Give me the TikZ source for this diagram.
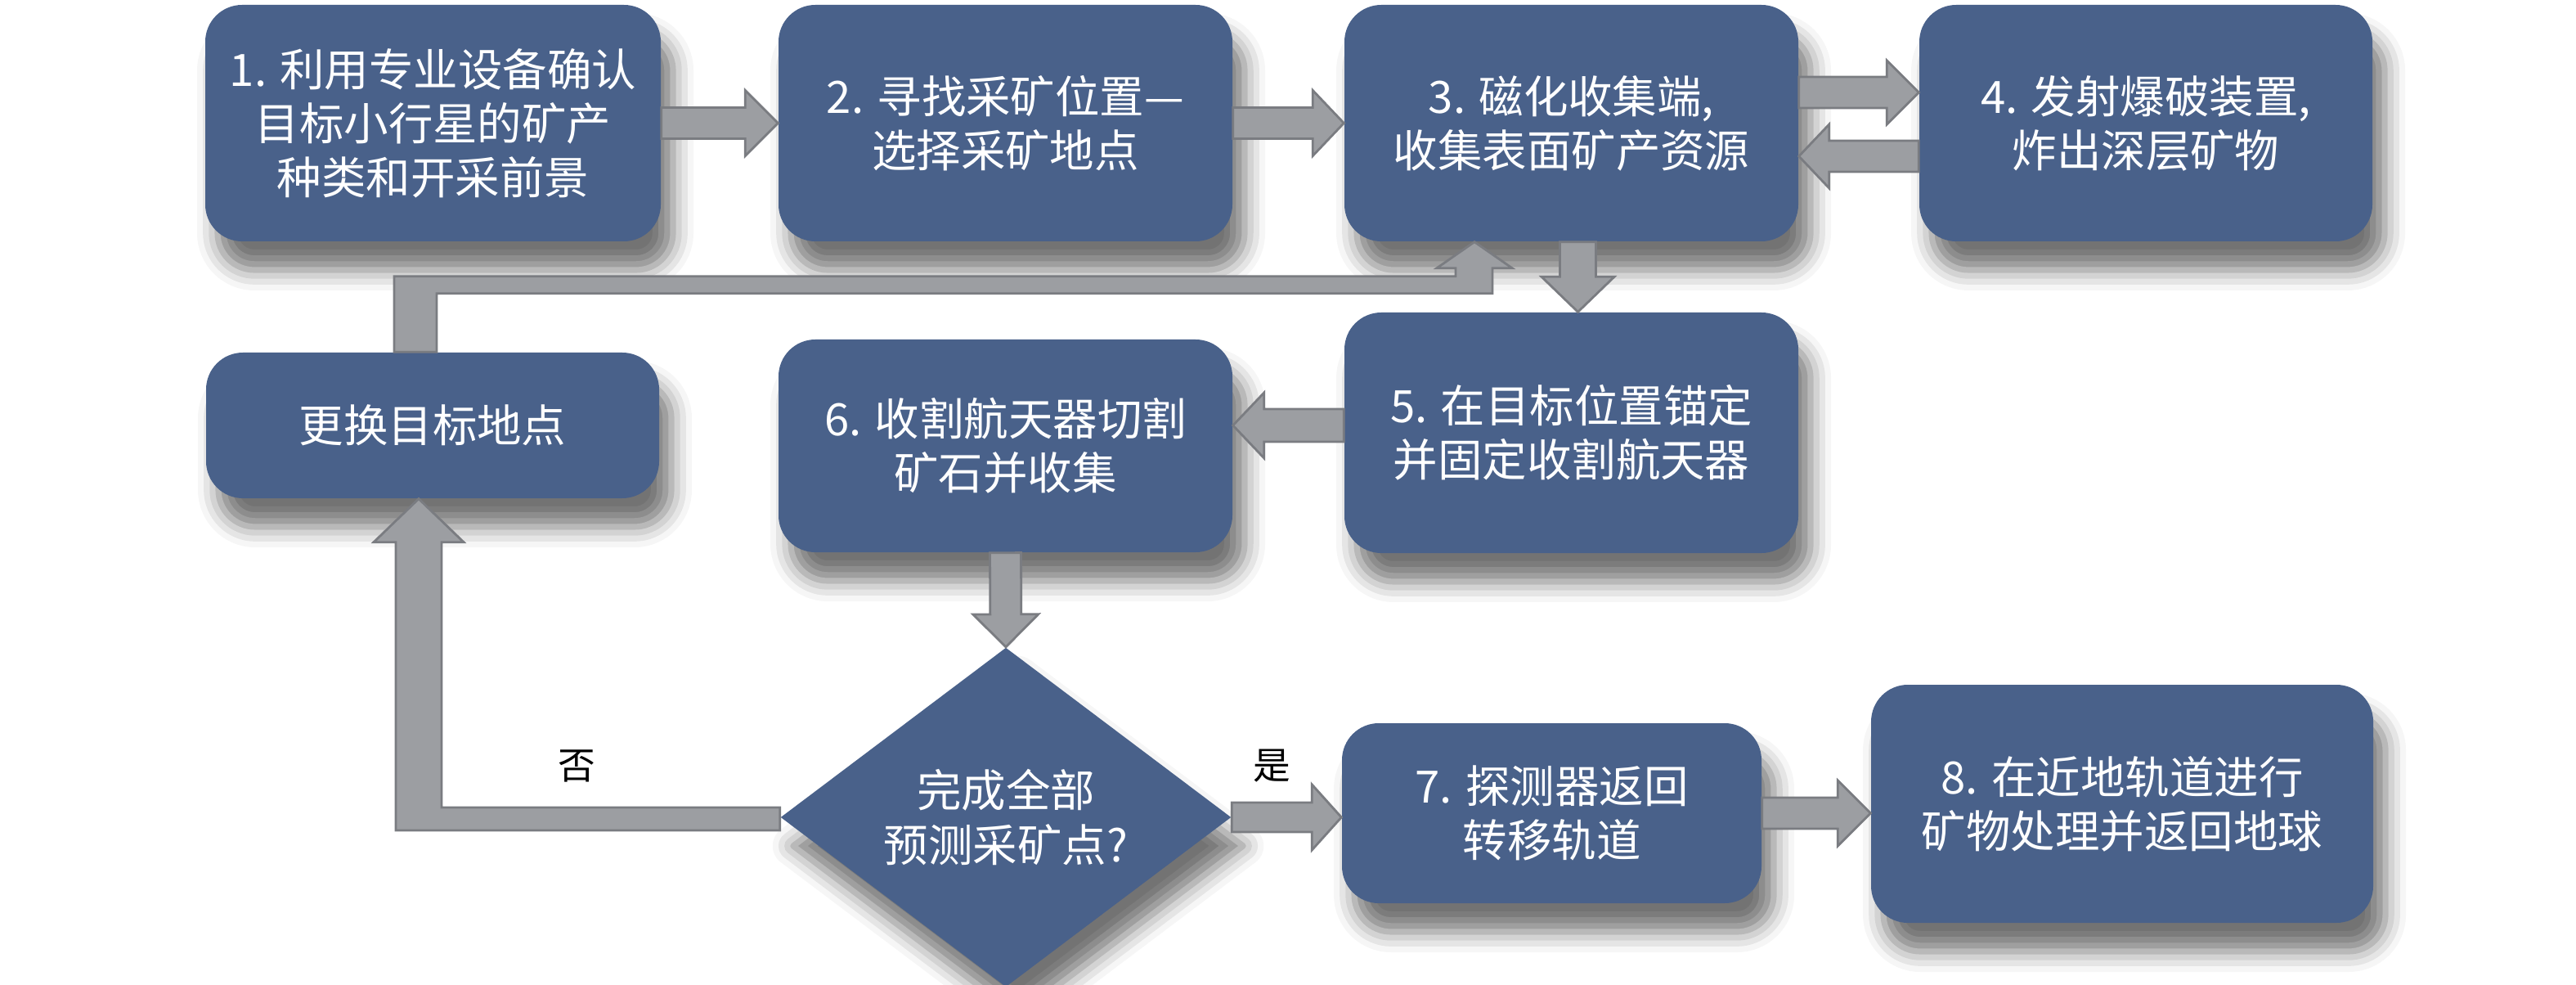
\documentclass[tikz,border=0pt]{standalone}
\usepackage{fontspec}
\setmainfont{Noto Sans CJK SC}
\usepackage{tikz}
\usetikzlibrary{positioning, calc, shapes.geometric, shadows.blur}
\definecolor{stageblue}{RGB}{73,97,138}
\definecolor{linkgray}{RGB}{156,158,162}
\definecolor{linkedge}{RGB}{122,124,129}
\newcommand{\stagecolor}{stageblue}
\newcommand{\linkcolor}{linkgray}
% block arrow: start, tip, shaft half width, head half width, head length
\newcommand{\blockarrow}[5]{%
  \coordinate (ba-s) at (#1);
  \coordinate (ba-t) at (#2);
  \coordinate (ba-h) at ($(ba-t)!#5!(ba-s)$);
  \draw[link] ($(ba-s)!#3!90:(ba-t)$) -- ($(ba-h)!#3!-90:(ba-s)$)
    -- ($(ba-h)!#4!-90:(ba-s)$) -- (ba-t) -- ($(ba-h)!#4!90:(ba-s)$)
    -- ($(ba-h)!#3!90:(ba-s)$) -- ($(ba-s)!#3!-90:(ba-t)$) -- cycle;
}

\begin{document}
\begin{tikzpicture}[
      % GLOBAL CFG
      font=\fontsize{15.5}{18.8}\selectfont,
      % Styles
      stage/.style={% For the mining steps
        rectangle,
        rounded corners=4.5mm,
        fill=\stagecolor,
        text=white,
        align=center,
        inner sep=0pt,
        blur shadow={shadow xshift=1.5mm, shadow yshift=-3.5mm,
          shadow blur radius=2.5mm, shadow opacity=55}
      },
      check/.style={% For the decision
        diamond,
        fill=\stagecolor,
        text=white,
        align=center,
        inner sep=0pt,
        blur shadow={shadow xshift=1.5mm, shadow yshift=-3.5mm,
          shadow blur radius=2.5mm, shadow opacity=55}
      },
      link/.style={% Gray block arrows
        fill=\linkcolor,
        draw=linkedge,
        line width=0.8pt
      },
      answer/.style={% Yes / no labels
        font=\fontsize{13}{15}\selectfont
      }
      ]
      \useasboundingbox (0,0) rectangle (31.5,12.03);

      % Top row
      \node [stage, minimum width=5.57cm, minimum height=2.89cm] (confirm) at (5.295,10.525)
        {1. 利用专业设备确认\\目标小行星的矿产\\种类和开采前景};
      \node [stage, minimum width=5.55cm, minimum height=2.89cm] (locate) at (12.295,10.525)
        {2. 寻找采矿位置—\\选择采矿地点};
      \node [stage, minimum width=5.55cm, minimum height=2.89cm] (collect) at (19.215,10.525)
        {3. 磁化收集端,\\收集表面矿产资源};
      \node [stage, minimum width=5.54cm, minimum height=2.89cm] (blast) at (26.24,10.525)
        {4. 发射爆破装置,\\炸出深层矿物};

      % Middle row
      \node [stage, minimum width=5.54cm, minimum height=1.78cm] (swap) at (5.29,6.83)
        {更换目标地点};
      \node [stage, minimum width=5.55cm, minimum height=2.60cm] (cut) at (12.295,6.58)
        {6. 收割航天器切割\\矿石并收集};
      \node [stage, minimum width=5.55cm, minimum height=2.94cm] (anchor) at (19.215,6.74)
        {5. 在目标位置锚定\\并固定收割航天器};

      % Bottom row
      \node [check, minimum width=5.51cm, minimum height=3.90cm] (done) at (12.30,2.04)
        {完成全部\\预测采矿点?};
      \node [stage, minimum width=5.13cm, minimum height=2.20cm] (back) at (18.975,2.09)
        {7. 探测器返回\\转移轨道};
      \node [stage, minimum width=6.14cm, minimum height=2.91cm] (earth) at (25.95,2.205)
        {8. 在近地轨道进行\\矿物处理并返回地球};

      % Arrows
      \blockarrow{confirm.east}{locate.west}{0.19cm}{0.40cm}{0.40cm}
      \blockarrow{locate.east}{collect.west}{0.19cm}{0.40cm}{0.38cm}
      \blockarrow{$(collect.east)+(0,0.375)$}{$(blast.west)+(0,0.375)$}{0.19cm}{0.39cm}{0.39cm}
      \blockarrow{$(blast.west)+(0,-0.405)$}{$(collect.east)+(0,-0.405)$}{0.19cm}{0.39cm}{0.37cm}
      \blockarrow{$(collect.south)+(0.08,0)$}{$(anchor.north)+(0.08,0)$}{0.22cm}{0.445cm}{0.43cm}
      \blockarrow{$(anchor.west)+(0,0.09)$}{$(anchor.west -| cut.east)+(0,0.09)$}{0.20cm}{0.40cm}{0.38cm}
      \blockarrow{cut.south}{done.north}{0.19cm}{0.40cm}{0.40cm}
      \blockarrow{done.east}{done.east -| back.west}{0.18cm}{0.40cm}{0.36cm}
      \blockarrow{back.east}{back.east -| earth.west}{0.19cm}{0.40cm}{0.40cm}

      % Loop back to step 3
      \draw [link] ($(swap.north)+(-0.47,0)$) |- ($(collect.south)+(-1.415,-0.42)$)
        -- ($(collect.south)+(-1.415,-0.32)$) -- ++(-0.23,0)
        -- ($(collect.south)+(-1.185,0)$)
        -- ($(collect.south)+(-0.725,-0.32)$) -- ++(-0.24,0)
        -- ($(collect.south)+(-0.965,-0.63)$) -| ($(swap.north)+(0.05,0)$) -- cycle;

      % "No" branch
      \coordinate (notip) at ($(swap.south)+(-0.17,0)$);
      \draw [link] ($(done.west)+(0,0.12)$) -| ($(notip)+(0.28,-0.53)$)
        -- ++(0.27,0) -- (notip) -- ++(-0.55,-0.53) -- ++(0.27,0)
        |- ($(done.west)+(0,-0.16)$) -- cycle;

      \node [answer] (no) at (7.05,2.67) {否};
      \node [answer] (yes) at (15.55,2.67) {是};

    \end{tikzpicture}
\end{document}
